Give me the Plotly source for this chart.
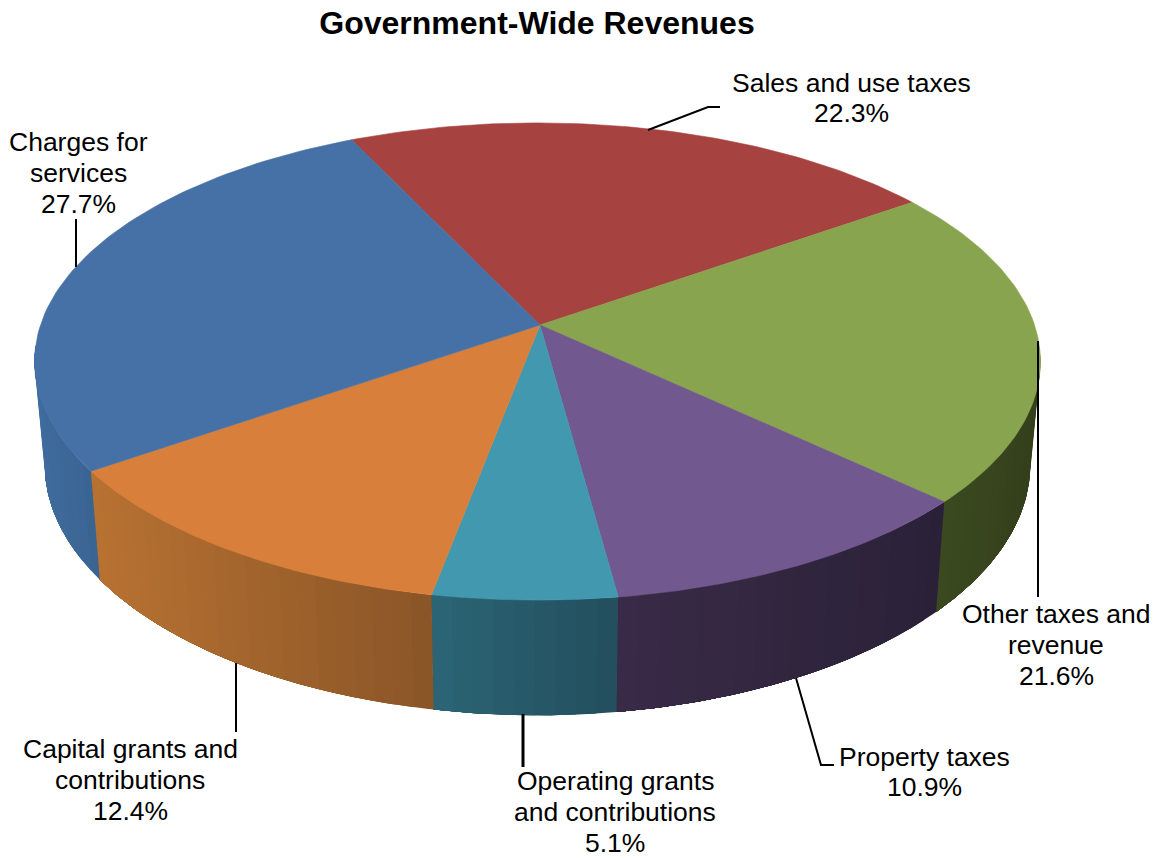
import numpy as np
import plotly.graph_objects as go

# ---- data ----
categories = ["Sales and use taxes", "Other taxes and<br>revenue", "Property taxes",
              "Operating grants<br>and contributions", "Capital grants and<br>contributions",
              "Charges for<br>services"]
values = [22.3, 21.6, 10.9, 5.1, 12.4, 27.7]
top_colors = ["#A64240", "#89A44E", "#71588F", "#4198AF", "#D8803B", "#4671A6"]
side_left = ["#7A3030", "#3C4A20", "#3A2B47", "#2B6575", "#B87232", "#3F6C9E"]
side_right = ["#7A3030", "#333F1B", "#2A2138", "#234E5D", "#8A5527", "#3A6492"]
label_x = [851, 1056, 924, 615, 130, 78]
label_y = [98, 645, 772, 812, 780, 173]
leaders_x = [[648, 708, 720], [1038, 1038], [796, 821, 834], [523, 523], [236, 236], [76, 76]]
leaders_y = [[130, 107, 107], [341, 597], [678, 765, 765], [714, 767], [663, 732], [219, 267]]
leader_w = [2, 2, 2, 3, 2, 2]
title = "Government-Wide Revenues"

# ---- projection of the pie disc ----
START = -25.2
CX, CY, A, B, K = 537.5, 325, 497, 233, 0.153
CXB, CYB, AB, BB = 537.5, 426, 487, 245
LINE_PITCH = 30.7


def top(t):
    r = np.radians(t)
    u, v = np.sin(r), -np.cos(r)
    d = 1 - K * v
    return CX + A * u / d, CY + B * v / d


def bottom(t):
    r = np.radians(t)
    u, v = np.sin(r), -np.cos(r)
    d = 1 - K * v
    return CXB + AB * u / d, CYB + BB * v / d


def hex2rgb(h):
    return np.array([int(h[i:i + 2], 16) for i in (1, 3, 5)], float)


fig = go.Figure()
edges = START + np.concatenate([[0], np.cumsum(values)]) * 3.6

# sides: each band runs to the far end of its slice and the next band paints over it, so no seams show
for i, v in enumerate(values):
    a0, a1 = edges[i], edges[i + 1]
    lo, hi = max(a0, 95), min(a1, 265)
    if hi <= lo:
        continue
    n = max(2, int((hi - lo) / 2))
    steps = np.linspace(lo, hi, n + 1)
    xs = top(steps)[0]
    c0, c1 = hex2rgb(side_left[i]), hex2rgb(side_right[i])
    order = np.arange(n)
    for j in order:
        s = np.linspace(steps[j], hi, 60)
        tx, ty = top(s)
        bx, by = bottom(s)
        mid = top(np.array([(steps[j] + steps[j + 1]) / 2]))[0][0]
        f = (mid - xs.min()) / (xs.max() - xs.min())
        c = c0 + (c1 - c0) * f
        col = f"rgb({c[0]:.0f},{c[1]:.0f},{c[2]:.0f})"
        fig.add_trace(go.Scatter(
            x=np.concatenate([tx, bx[::-1]]), y=np.concatenate([ty, by[::-1]]),
            mode="lines", fill="toself", fillcolor=col,
            line=dict(color=col, width=0), hoverinfo="skip", showlegend=False))

# top face
for i, v in enumerate(values):
    s = np.linspace(edges[i], edges[i + 1], 80)
    tx, ty = top(s)
    fig.add_trace(go.Scatter(
        x=np.concatenate([[CX + 2.5], tx, [CX + 2.5]]), y=np.concatenate([[CY], ty, [CY]]),
        mode="lines", fill="toself", fillcolor=top_colors[i],
        line=dict(color=top_colors[i], width=0.6), hoverinfo="skip", showlegend=False))

# leader lines
for lx, ly, w in zip(leaders_x, leaders_y, leader_w):
    fig.add_trace(go.Scatter(x=lx, y=ly, mode="lines", line=dict(color="black", width=w),
                             hoverinfo="skip", showlegend=False))

# labels: one annotation per text line, to hold the line pitch of the reference
for c, v, x, y in zip(categories, values, label_x, label_y):
    lines = c.split("<br>") + [f"{v}%"]
    for k, line in enumerate(lines):
        fig.add_annotation(x=x, y=y + (k - (len(lines) - 1) / 2) * LINE_PITCH, text=line,
                           showarrow=False, xanchor="center", yanchor="middle",
                           font=dict(family="Liberation Sans", size=26.5, color="black"))

fig.update_layout(
    width=1161, height=858, margin=dict(l=0, r=0, t=0, b=0),
    paper_bgcolor="white", plot_bgcolor="white", showlegend=False,
    title=dict(text=f"<b>{title}</b>", x=537 / 1161, y=1 - 23 / 858, xanchor="center", yanchor="middle",
               font=dict(family="Liberation Sans", size=32, color="black")),
    xaxis=dict(range=[0, 1161], visible=False, fixedrange=True),
    yaxis=dict(range=[858, 0], visible=False, fixedrange=True),
)
fig.write_html("out.html", post_script="document.body.style.margin='0';",
               config={"displayModeBar": False})
